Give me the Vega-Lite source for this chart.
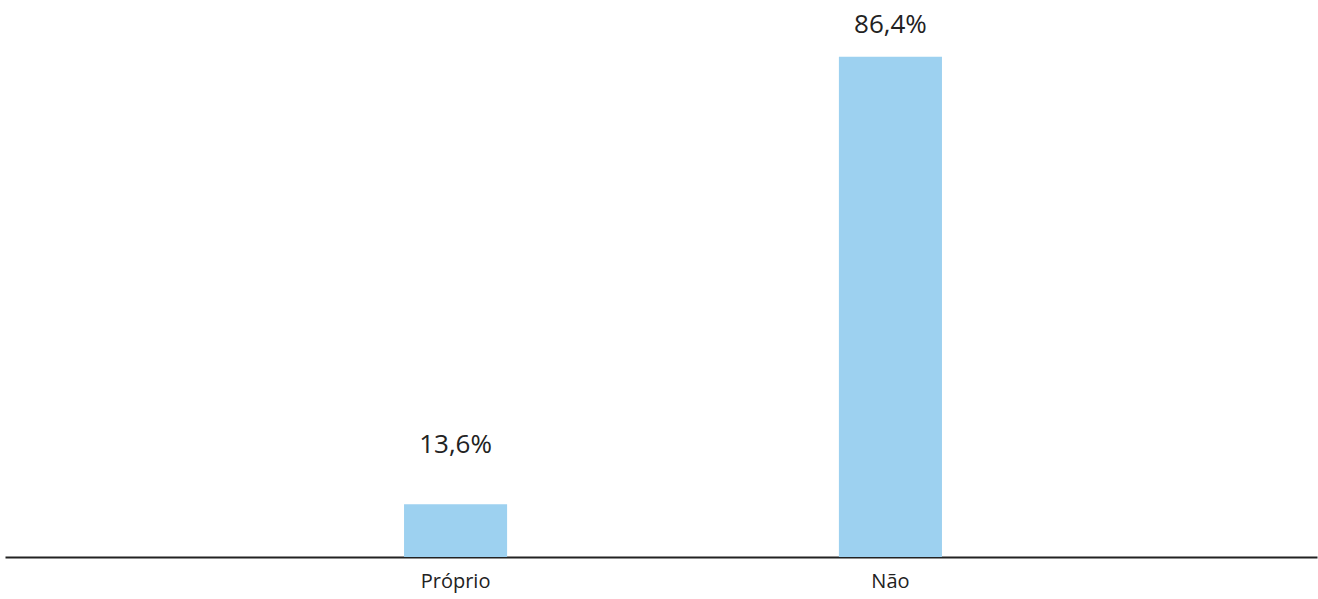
{
  "$schema": "https://vega.github.io/schema/vega-lite/v6.json",
  "width": 1312,
  "height": 553,
  "autosize": {"type": "none"},
  "padding": {"left": 5, "top": 4, "right": 1, "bottom": 42},
  "background": "white",
  "config": {"view": {"stroke": null}, "font": "Open Sans"},
  "data": {"values": [
    {"categoria": "Próprio", "valor": 13.6, "rotulo": "13,6%"},
    {"categoria": "Não", "valor": 86.4, "rotulo": "86,4%"}
  ]},
  "encoding": {
    "x": {
      "field": "categoria", "type": "nominal", "sort": null,
      "scale": {"paddingInner": 0.763, "paddingOuter": 0.89, "align": 0.5155},
      "axis": {
        "title": null, "labelAngle": 0, "ticks": false,
        "domainColor": "#222222", "domainWidth": 2,
        "labelFont": "Open Sans", "labelFontSize": 20, "labelColor": "#222222",
        "labelBaseline": "alphabetic", "labelPadding": 30
      }
    }
  },
  "layer": [
    {
      "mark": {"type": "bar", "color": "#9DD1F0", "clip": true},
      "encoding": {
        "y": {"field": "valor", "type": "quantitative",
              "scale": {"domain": [5, 95], "zero": false, "nice": false},
              "axis": null}
      }
    },
    {
      "mark": {"type": "text", "font": "Open Sans", "fontSize": 26, "color": "#222222",
               "baseline": "alphabetic", "dy": -25},
      "encoding": {
        "y": {"field": "valor", "type": "quantitative",
              "scale": {"domain": [0, 95.8], "nice": false},
              "axis": null},
        "text": {"field": "rotulo"}
      }
    }
  ],
  "resolve": {"scale": {"y": "independent"}}
}
